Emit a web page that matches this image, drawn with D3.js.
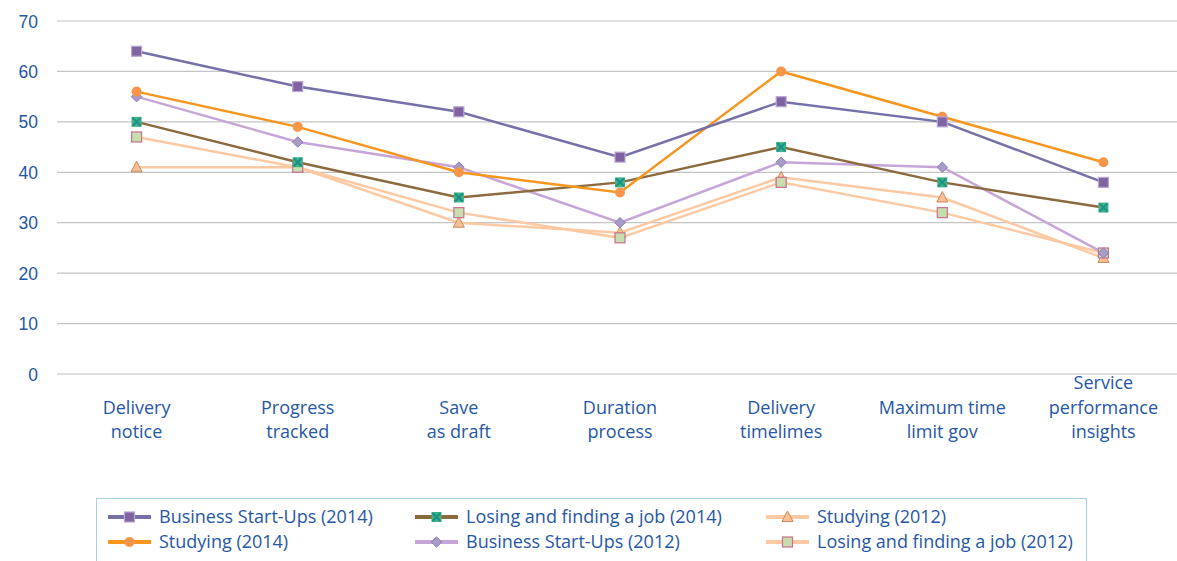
<!DOCTYPE html>
<html>
<head>
<meta charset="utf-8">
<script src="https://cdn.jsdelivr.net/npm/d3@7"></script>
<style>
  body { margin: 0; background: #fff; }
  svg { display: block; font-family: "Open Sans", sans-serif; }
</style>
</head>
<body>
<div id="chart"></div>
<script>
var categories = [
  ["Delivery", "notice"],
  ["Progress", "tracked"],
  ["Save", "as draft"],
  ["Duration", "process"],
  ["Delivery", "timelimes"],
  ["Maximum time", "limit gov"],
  ["Service", "performance", "insights"]
]

var yTicks = [0, 10, 20, 30, 40, 50, 60, 70]

var bsu2014 = [64, 57, 52, 43, 54, 50, 38]
var studying2014 = [56, 49, 40, 36, 60, 51, 42]
var lfj2014 = [50, 42, 35, 38, 45, 38, 33]
var bsu2012 = [55, 46, 41, 30, 42, 41, 24]
var studying2012 = [41, 41, 30, 28, 39, 35, 23]
var lfj2012 = [47, 41, 32, 27, 38, 32, 24]

var seriesNames = [
  "Business Start-Ups (2014)",
  "Studying (2014)",
  "Losing and finding a job (2014)",
  "Business Start-Ups (2012)",
  "Studying (2012)",
  "Losing and finding a job (2012)"
]

var series = [
  { name: seriesNames[0], values: bsu2014, line: "#7571a8", marker: "square", fill: "#8064a2", stroke: "#b9a7d3" },
  { name: seriesNames[1], values: studying2014, line: "#f7961f", marker: "circle", fill: "#f7964a", stroke: "#f7964a" },
  { name: seriesNames[2], values: lfj2014, line: "#8b6a3e", marker: "xsquare", fill: "#3cb384", stroke: "#1d8f8a" },
  { name: seriesNames[3], values: bsu2012, line: "#c6a5d8", marker: "diamond", fill: "#a99bc8", stroke: "#8e80b6" },
  { name: seriesNames[4], values: studying2012, line: "#fcc9a2", marker: "triangle", fill: "#f6bf94", stroke: "#c98b5c" },
  { name: seriesNames[5], values: lfj2012, line: "#fcc9a2", marker: "square2", fill: "#c7dfae", stroke: "#cc6f8c" }
]

var width = 1177, height = 561
var textColor = "#2557a5"
var labelSize = "18px"

var svg = d3.select("#chart").append("svg")
  .attr("width", width)
  .attr("height", height)

var x = d3.scaleBand()
  .domain(d3.range(categories.length))
  .range([56, 1184])

var y = d3.scaleLinear()
  .domain([0, 70])
  .range([374, 21])

// gridlines
svg.append("g")
  .selectAll("line")
  .data(yTicks)
  .join("line")
  .attr("x1", 57)
  .attr("x2", width)
  .attr("y1", d => y(d))
  .attr("y2", d => y(d))
  .attr("stroke", "#c4c4c4")
  .attr("stroke-width", 1.2)

// y axis labels
var yAxis = d3.axisLeft(y).tickValues(yTicks).tickSize(0).tickPadding(0)
var yg = svg.append("g")
  .attr("transform", "translate(38,0)")
  .call(yAxis)
yg.select(".domain").remove()
yg.selectAll("text")
  .attr("fill", textColor)
  .style("font-size", "17.5px")
  .attr("dy", "0.35em")

// x labels, bottom aligned
var lineH = 24.5
var xl = svg.append("g")
  .selectAll("text")
  .data(categories)
  .join("text")
  .attr("text-anchor", "middle")
  .attr("fill", textColor)
  .style("font-size", labelSize)
  .attr("x", (d, i) => x(i) + x.bandwidth() / 2)
  .attr("y", 438)
xl.selectAll("tspan")
  .data(d => d.map((t, k) => ({ t: t, off: k - (d.length - 1) })))
  .join("tspan")
  .attr("x", function() { return d3.select(this.parentNode).attr("x") })
  .attr("y", d => 438 + d.off * lineH)
  .text(d => d.t)

function drawMarker(g, type, cx, cy, s) {
  if (type === "square" || type === "square2") {
    g.append("rect")
      .attr("x", cx - 5).attr("y", cy - 5)
      .attr("width", 10).attr("height", 10)
      .attr("fill", s.fill).attr("stroke", s.stroke).attr("stroke-width", 1.2)
  } else if (type === "circle") {
    g.append("circle")
      .attr("cx", cx).attr("cy", cy).attr("r", 5)
      .attr("fill", s.fill)
  } else if (type === "xsquare") {
    g.append("rect")
      .attr("x", cx - 5).attr("y", cy - 5)
      .attr("width", 10).attr("height", 10)
      .attr("fill", s.fill)
    g.append("path")
      .attr("d", "M" + (cx - 4) + "," + (cy - 4) + "L" + (cx + 4) + "," + (cy + 4) +
        "M" + (cx + 4) + "," + (cy - 4) + "L" + (cx - 4) + "," + (cy + 4))
      .attr("stroke", s.stroke).attr("stroke-width", 2)
  } else if (type === "diamond") {
    g.append("path")
      .attr("d", d3.symbol().type(d3.symbolDiamond2).size(70)())
      .attr("transform", "translate(" + cx + "," + cy + ")")
      .attr("fill", s.fill).attr("stroke", s.stroke).attr("stroke-width", 1)
  } else if (type === "triangle") {
    g.append("path")
      .attr("d", "M" + cx + "," + (cy - 6) + "L" + (cx + 5.5) + "," + (cy + 4.5) + "L" + (cx - 5.5) + "," + (cy + 4.5) + "Z")
      .attr("fill", s.fill).attr("stroke", s.stroke).attr("stroke-width", 1)
  }
}

var line = d3.line()
  .x((d, i) => x(i) + x.bandwidth() / 2)
  .y(d => y(d))

// draw lines in reverse so 2014 series sit on top
var order = [4, 5, 3, 2, 1, 0]
order.forEach(function(k) {
  var s = series[k]
  svg.append("path")
    .datum(s.values)
    .attr("d", line)
    .attr("fill", "none")
    .attr("stroke", s.line)
    .attr("stroke-width", 2.5)
})
order.forEach(function(k) {
  var s = series[k]
  var g = svg.append("g")
  s.values.forEach(function(v, i) {
    drawMarker(g, s.marker, x(i) + x.bandwidth() / 2, y(v), s)
  })
})

// legend
var legend = svg.append("g")
legend.append("rect")
  .attr("x", 96.5).attr("y", 498.5)
  .attr("width", 990).attr("height", 80)
  .attr("fill", "none")
  .attr("stroke", "#a9d0e4")
  .attr("stroke-width", 1)

var colX = [108, 415, 766]
var rowY = [517, 542]
series.forEach(function(s, k) {
  var col = Math.floor(k / 2), row = k % 2
  var lx = colX[col], ly = rowY[row]
  var g = legend.append("g")
  g.append("line")
    .attr("x1", lx).attr("x2", lx + 43)
    .attr("y1", ly).attr("y2", ly)
    .attr("stroke", s.line).attr("stroke-width", 4)
  drawMarker(g, s.marker, lx + 21.5, ly, s)
  g.append("text")
    .attr("x", lx + 51).attr("y", ly)
    .attr("dy", "0.35em")
    .attr("fill", textColor)
    .style("font-size", labelSize)
    .text(s.name)
})
</script>
</body>
</html>
